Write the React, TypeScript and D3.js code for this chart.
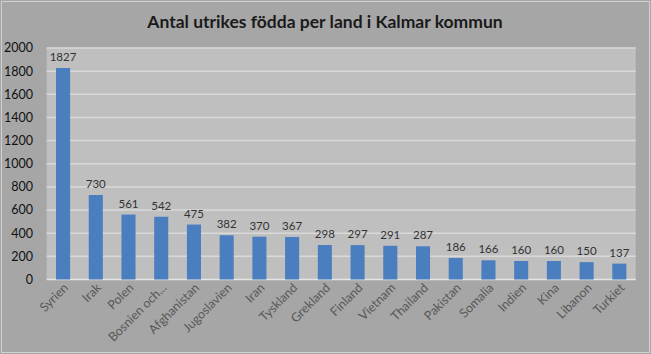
import React from "react";
import * as d3 from "d3";

const categories = ["Syrien","Irak","Polen","Bosnien och...","Afghanistan","Jugoslavien","Iran","Tyskland","Grekland","Finland","Vietnam","Thailand","Pakistan","Somalia","Indien","Kina","Libanon","Turkiet"];
const values = [1827,730,561,542,475,382,370,367,298,297,291,287,186,166,160,160,150,137];
const yTicks = [0,200,400,600,800,1000,1200,1400,1600,1800,2000];
const title = "Antal utrikes födda per land i Kalmar kommun";

const W = 651, H = 354;
const L = 46.7, R = 635.7, T = 48, B = 279.5;
const FONT = "Lato, 'Open Sans', sans-serif";

export default function App() {
  const x = d3.scaleBand<string>().domain(categories).range([L, R]).paddingInner(0.57).paddingOuter(0.285);
  const y = d3.scaleLinear().domain([0, 2000]).range([B, T]);
  return (
    <svg width={W} height={H} style={{ position: "fixed", left: 0, top: 0 }}>
      <rect x={0} y={0} width={W} height={H} fill="#a6a6a6" />
      <rect x={1.5} y={1.5} width={W - 3} height={H - 3} fill="none" stroke="#d0d0d0" strokeWidth={1} />
      <text x={325} y={28} textAnchor="middle" fontFamily={FONT} fontWeight="bold" fontSize={17.5} fill="#1a1a1a">{title}</text>
      <rect x={L} y={T} width={R - L} height={B - T} fill="#bfbfbf" />
      {yTicks.map(t => (
        <g key={t}>
          <line x1={L} x2={R} y1={y(t)} y2={y(t)} stroke={t === 0 ? "#e6e6e6" : "#d9d9d9"} strokeWidth={1.5} />
          <text x={33} y={y(t)} dy="0.35em" textAnchor="end" fontFamily={FONT} fontSize={12.5} fill="#111">{t}</text>
        </g>
      ))}
      {categories.map((c, i) => {
        const bx = x(c)!;
        const cx = bx + x.bandwidth() / 2;
        return (
          <g key={c}>
            <rect x={bx} y={y(values[i])} width={x.bandwidth()} height={B - y(values[i])} fill="#4a7ebf" />
            <text x={cx} y={y(values[i]) - 7} textAnchor="middle" fontFamily={FONT} fontSize={11.5} fill="#333">{values[i]}</text>
            <text transform={`translate(${cx + 6},${B + 9}) rotate(-45)`} textAnchor="end" fontFamily={FONT} fontSize={12.5} fill="#595959">{c}</text>
          </g>
        );
      })}
    </svg>
  );
}
